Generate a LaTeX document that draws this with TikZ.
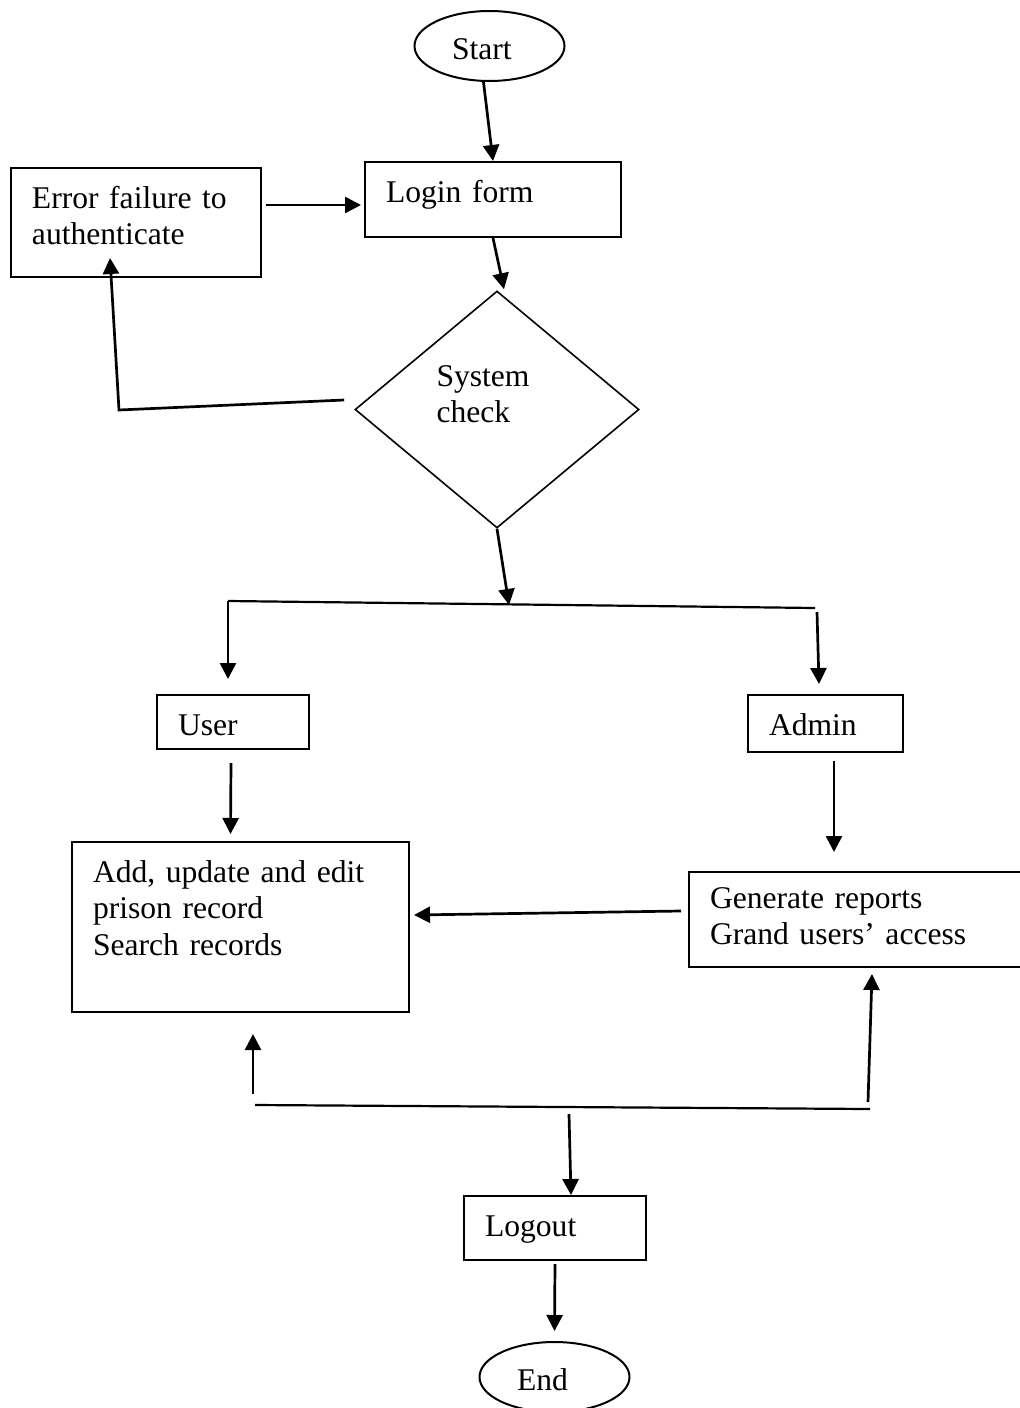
\documentclass[tikz,border=0pt]{standalone}
\usepackage{fontspec}
\setmainfont{Liberation Serif}
\usepackage{tikz}
\usetikzlibrary{shapes.geometric}
\usetikzlibrary{arrows.meta}

\begin{document}
\begin{tikzpicture}[x=0.5pt, y=-0.5pt,
  every node/.style={font=\fontsize{15.8pt}{18.25pt}\selectfont},
  box/.style={rectangle, draw, line width=1pt, inner xsep=10.5pt, inner ysep=0pt, text height=20pt, align=left},
  term/.style={ellipse, draw, line width=1pt, minimum width=75pt, minimum height=35pt, inner sep=0pt,
               text width=37.5pt, text height=13pt, text depth=0pt, align=left},
  arr/.style={-{Triangle[length=8pt,width=8pt]}, line width=1.35pt},
  bus/.style={line width=1.1pt}]

      \useasboundingbox (0,0) rectangle (1019,1408);

      \node[term]                                      (start)   at (489.5, 46)    {Start};
      \node[box, text width=107pt, text depth=17.5pt]  (login)   at (493, 199.5)   {Login form};
      \node[box, text width=104pt, text depth=34.5pt]  (error)   at (136, 222.5)   {Error failure to\\authenticate};
      \node[diamond, draw, line width=0.8pt, minimum width=142pt, minimum height=118.5pt, inner sep=0pt,
            text width=60.5pt, align=left, text height=10.5pt, text depth=34pt]
                                                       (check)   at (497, 409.5)   {System\\check};
      \node[box, text width=55pt, text depth=7pt]      (user)    at (233, 722)     {User};
      \node[box, text width=56.5pt, text depth=8.5pt]  (admin)   at (825.5, 723.5) {Admin};
      \node[box, text width=147.5pt, text depth=65pt]  (recs)    at (240.5, 927)   {Add, update and edit\\prison record\\Search records};
      \node[box, text width=146.5pt, text height=18pt, text depth=29.5pt]
                                                       (reports) at (856.5, 919.5) {Generate reports\\Grand users’ access};
      \node[box, text width=70pt, text depth=12pt]     (logout)  at (555, 1228)    {Logout};
      \node[term]                                      (finish)  at (554.5, 1377)  {End};

      \coordinate (fb)    at (119, 410);
      \coordinate (split) at (509, 605);
      \coordinate (busL)  at (228, 601);
      \coordinate (busR)  at (815, 608);
      \coordinate (busBL) at (255, 1105);
      \coordinate (busBR) at (870, 1109);
      \coordinate (join)  at (569, 1107);

      \draw[arr] ([shift={(-6,0)}]start.south) -- (login.north);
      \draw[arr] ([shift={(4,-17.5)}]error.east) -- ([shift={(-3,5.5)}]login.west);
      \draw[arr] (login.south) -- ([shift={(7,-1)}]check.north);
      \draw[arr] ([shift={(-10,-9.5)}]check.west) -- (fb) -- ([shift={(-26,-20)}]error.south);
      \draw[arr] (check.south) -- (split);
      \draw[bus] (busL) -- (busR);
      \draw[arr] (busL) -- ([shift={(-5,-15)}]user.north);
      \draw[arr] ([shift={(2,4)}]busR) -- ([shift={(-6.5,-10)}]admin.north);
      \draw[arr] ([shift={(-2,13)}]user.south) -- ([shift={(-10,-7)}]recs.north);
      \draw[arr] ([shift={(8.5,8)}]admin.south) -- ([shift={(-22.5,-19)}]reports.north);
      \draw[arr] ([shift={(-7,-8.5)}]reports.west) -- ([shift={(4,-12)}]recs.east);
      \draw[bus] (busBL) -- (busBR);
      \draw[arr] ([shift={(-2,-11)}]busBL) -- ([shift={(12.5,21)}]recs.south);
      \draw[arr] ([shift={(-2,-7)}]busBR) -- ([shift={(15.5,6)}]reports.south);
      \draw[arr] ([shift={(0,7)}]join) -- ([shift={(16,0)}]logout.north);
      \draw[arr] ([shift={(0,3)}]logout.south) -- ([shift={(0,-10)}]finish.north);
    \end{tikzpicture}
\end{document}
